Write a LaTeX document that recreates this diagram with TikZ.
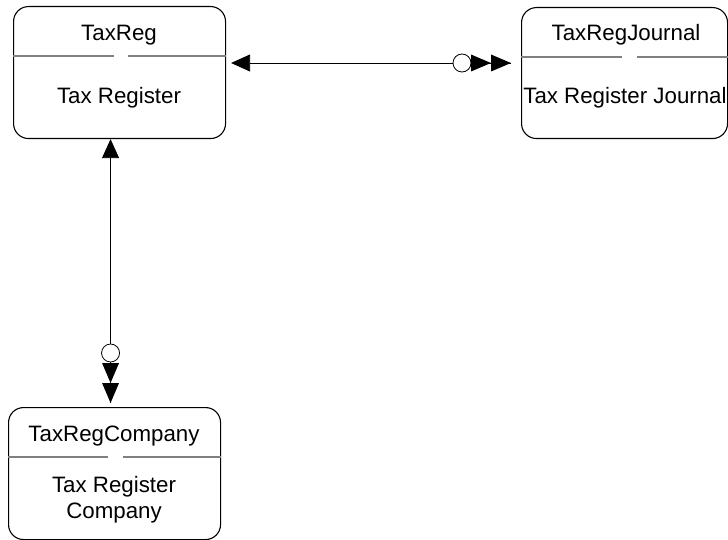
\documentclass[tikz,border=0pt]{standalone}
\usepackage{fontspec}
\setmainfont{Liberation Sans}
\usetikzlibrary{arrows.meta,calc}
\tikzset{
  ent/.style={draw=black, line width=1.1pt, rounded corners=15pt, inner sep=0pt, anchor=north west},
  divider/.style={draw=black!50, line width=1.3pt},
  lbl/.style={font=\fontsize{22.3}{26}\selectfont, anchor=base, inner sep=0pt},
  conn/.style={draw=black, line width=0.8pt},
  headfill/.style={fill=black},
  optcircle/.style={draw=black, line width=0.8pt, fill=white},
}
\begin{document}
\begin{tikzpicture}[x=1pt,y=-1pt]
\useasboundingbox (0,0) rectangle (728,540);
% boxes
\node[ent, minimum width=212pt, minimum height=132pt] (reg) at (13,6) {};
\node[ent, minimum width=206pt, minimum height=131pt] (jrn) at (521,7) {};
\node[ent, minimum width=212pt, minimum height=132pt] (comp) at (8,407) {};
% dividers
\draw[divider] (reg.west |- 0,56) -- (114,56);
\draw[divider] (128,56) -- (reg.east |- 0,56);
\draw[divider] (jrn.west |- 0,57) -- (622,57);
\draw[divider] (637,57) -- (jrn.east |- 0,57);
\draw[divider] (comp.west |- 0,457) -- (108,457);
\draw[divider] (123,457) -- (comp.east |- 0,457);
% labels
\node[lbl] (regtitle) at (119,41) {TaxReg};
\node[lbl] (regdesc) at (119,104) {Tax Register};
\node[lbl] (jrntitle) at (626,41) {TaxRegJournal};
\node[lbl] (jrndesc) at (625,104) {Tax Register Journal};
\node[lbl] (comptitle) at (114,441) {TaxRegCompany};
\node[lbl] (compdesc1) at (114,492) {Tax Register};
\node[lbl] (compdesc2) at (114,518) {Company};
% connector end points
\coordinate (h1) at ([xshift=5pt,yshift=-57pt]reg.north east);
\coordinate (h2) at ([xshift=-10pt,yshift=-56pt]jrn.north west);
\coordinate (v1) at ([xshift=-9pt]reg.south);
\coordinate (v2) at ([xshift=-4pt,yshift=4pt]comp.north);
% horizontal connector
\draw[conn, {Triangle[length=19pt,width=17pt]}-] (h1) -- (h2);
\draw[optcircle] ($(h2)+(-49,0)$) circle[radius=9];
\fill[headfill] (h2) -- ++(-20,-8.5) -- ++(0,17) -- cycle;
\fill[headfill] ($(h2)+(-20,0)$) -- ++(-20,-8.5) -- ++(0,17) -- cycle;
% vertical connector
\draw[conn, {Triangle[length=19pt,width=17pt]}-] (v1) -- (v2);
\draw[optcircle] ($(v2)+(0,-50)$) circle[radius=9];
\fill[headfill] (v2) -- ++(-8.5,-20) -- ++(17,0) -- cycle;
\fill[headfill] ($(v2)+(0,-20)$) -- ++(-8.5,-20) -- ++(17,0) -- cycle;
\end{tikzpicture}
\end{document}
